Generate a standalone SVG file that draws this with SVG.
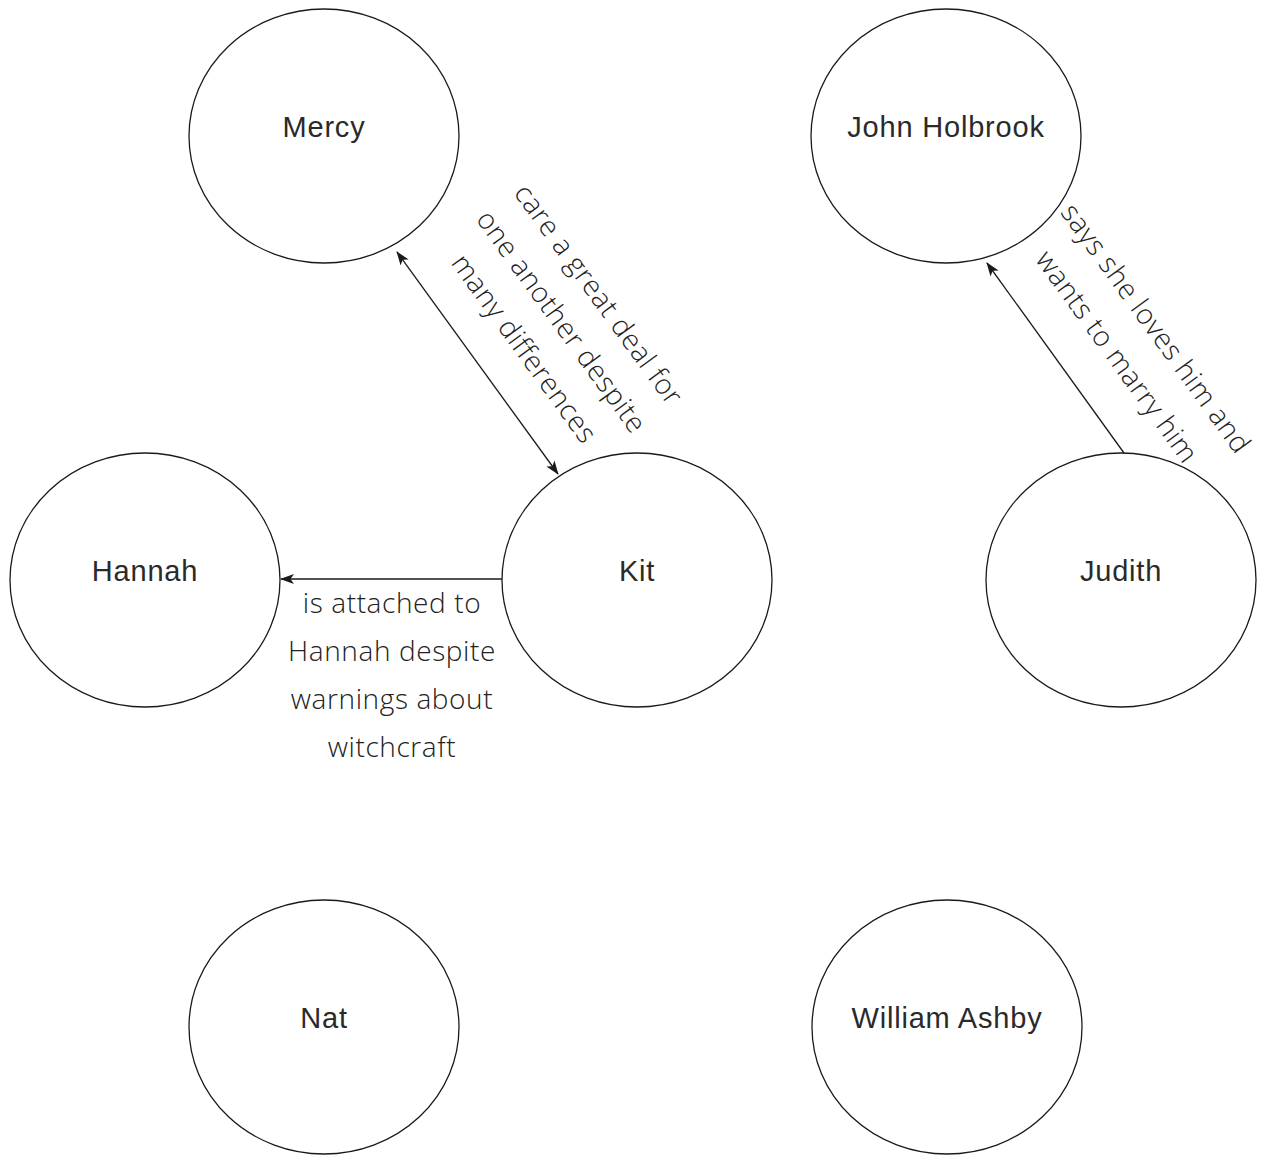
<svg xmlns="http://www.w3.org/2000/svg" width="1263" height="1155" viewBox="0 0 1263 1155">
<defs>
<style>
.node ellipse{fill:#fff;stroke:#1a1a1a;stroke-width:1.3}
.node text{font-family:"Liberation Sans",Arial,sans-serif;font-size:29px;letter-spacing:0.8px;fill:#2a2a2a;text-anchor:middle;dominant-baseline:central}
.edge{stroke:#1a1a1a;stroke-width:1.3;fill:none}
.lbl{font-family:"Open Sans","Liberation Sans",sans-serif;font-weight:300;font-size:28px;letter-spacing:0.6px;fill:#222;text-anchor:middle}
</style>
<marker id="arr" viewBox="0 0 14 10" refX="13" refY="5" markerWidth="14" markerHeight="10" markerUnits="userSpaceOnUse" orient="auto-start-reverse">
<path d="M0,0 L14,5 L0,10 L3.5,5 Z" fill="#1a1a1a"/>
</marker>
</defs>
<rect width="1263" height="1155" fill="#fff"/>
<g id="mercy" class="node"><ellipse cx="324" cy="136" rx="135" ry="127"/><text x="324" y="127">Mercy</text></g>
<g id="john" class="node"><ellipse cx="946" cy="136" rx="135" ry="127"/><text x="946" y="127">John Holbrook</text></g>
<g id="hannah" class="node"><ellipse cx="145" cy="580" rx="135" ry="127"/><text x="145" y="571">Hannah</text></g>
<g id="kit" class="node"><ellipse cx="637" cy="580" rx="135" ry="127"/><text x="637" y="571">Kit</text></g>
<g id="judith" class="node"><ellipse cx="1121" cy="580" rx="135" ry="127"/><text x="1121" y="571">Judith</text></g>
<g id="nat" class="node"><ellipse cx="324" cy="1027" rx="135" ry="127"/><text x="324" y="1018">Nat</text></g>
<g id="william" class="node"><ellipse cx="947" cy="1027" rx="135" ry="127"/><text x="947" y="1018">William Ashby</text></g>
<g id="edges">
<line class="edge" x1="397" y1="252" x2="558" y2="474" marker-start="url(#arr)" marker-end="url(#arr)"/>
<line class="edge" x1="502" y1="579" x2="281" y2="579" marker-end="url(#arr)"/>
<line class="edge" x1="1124" y1="453" x2="987" y2="263" marker-end="url(#arr)"/>
<g transform="translate(561,322) rotate(54)">
<text class="lbl" x="0" y="-37">care a great deal for</text>
<text class="lbl" x="0" y="9">one another despite</text>
<text class="lbl" x="0" y="55">many differences</text>
</g>
<g>
<text class="lbl" x="392" y="613">is attached to</text>
<text class="lbl" x="392" y="661">Hannah despite</text>
<text class="lbl" x="392" y="709">warnings about</text>
<text class="lbl" x="392" y="757">witchcraft</text>
</g>
<g transform="translate(1136,343) rotate(54)">
<text class="lbl" x="0" y="-15">says she loves him and</text>
<text class="lbl" x="0" y="33">wants to marry him</text>
</g>
</g>
</svg>
